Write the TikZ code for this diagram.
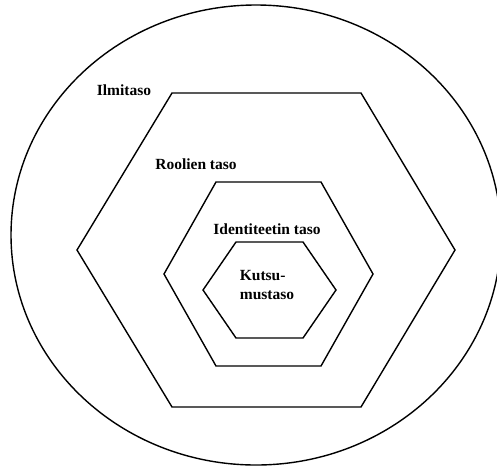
\documentclass[tikz,border=0pt]{standalone}
\usepackage{fontspec}
\setmainfont{Liberation Serif}
\usetikzlibrary{positioning}

\tikzset{
  ring/.style={line width=1.4pt, line join=miter},
  taso/.style={font=\bfseries\fontsize{15.5}{18.6}\selectfont, inner sep=0pt}
}

\begin{document}
\begin{tikzpicture}[x=1pt, y=-1pt]
  \useasboundingbox (0,0) rectangle (497,467);
  % outer circle
  \draw[ring] (256,235) ellipse [x radius=245, y radius=230];
  % hexagons
  \draw[ring] (77,250) -- (172,93) -- (361,93) -- (455,250) -- (361,407) -- (172,407) -- cycle;
  \draw[ring] (164,274) -- (216,182) -- (321,182) -- (373,274) -- (321,366) -- (216,366) -- cycle;
  \draw[ring] (203,290) -- (236,242) -- (303,242) -- (336,290) -- (303,338) -- (236,338) -- cycle;
  % labels
  \node[taso] (ilmi) at (124,90) {Ilmitaso};
  \node[taso] (rooli) at (196,164) {Roolien taso};
  \node[taso] (ident) at (267,229) {Identiteetin taso};
  \node[taso, align=left] (kutsu) at (267,285) {Kutsu-\\mustaso};
\end{tikzpicture}
\end{document}
